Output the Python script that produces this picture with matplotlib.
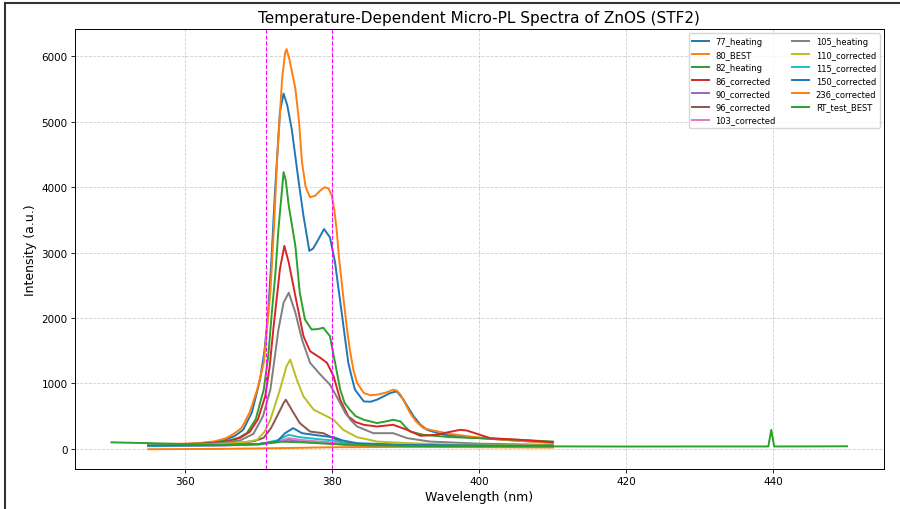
import matplotlib
matplotlib.use("Agg")
import matplotlib.pyplot as plt
from matplotlib.lines import Line2D

# spectra (wavelength in nm, intensity in a.u.)
wl_77 = [355, 360, 362, 364, 365.5, 366.8, 367.9, 369.1, 370.2, 370.8, 371.3, 371.8, 372.2, 372.9,
         373.4, 373.9, 374.5, 375.4, 376.1, 376.9, 377.4, 377.9, 378.9, 379.7, 380.4, 380.8,
         381.3, 381.8, 382.2, 382.7, 383.1, 384.3, 385.2, 386.1, 387.9, 388.8, 389.7, 390.4,
         391.1, 392.0, 392.9, 395, 398, 402, 406, 410]
int_77 = [70, 75, 85, 105, 140, 200, 291, 560, 1058, 1500, 2082, 3000, 3870, 5150,
          5430, 5250, 4893, 4126, 3563, 3027, 3060, 3155, 3360, 3232, 2849, 2500,
          2082, 1650, 1315, 1080, 905, 726, 720, 752, 854, 879, 752, 620,
          496, 370, 291, 220, 180, 150, 120, 100]

wl_80 = [355, 360, 362, 364, 365.5, 366.5, 367.7, 368.8, 369.8, 370.7, 371.2, 371.6, 372.1, 372.5,
         373.2, 373.6, 373.8, 374.2, 375.0, 375.5, 375.9, 376.4, 377.0, 377.7, 378.4, 379.0,
         379.5, 379.96, 380.3, 380.6, 381.0, 381.5, 382.0, 382.4, 382.9, 383.4, 384.3, 385.2,
         386.1, 387.3, 388.3, 388.8, 389.3, 389.9, 390.6, 391.4, 392.4, 393.3, 396, 398.8,
         403.3, 410]
int_80 = [75, 80, 90, 115, 160, 220, 320, 560, 900, 1315, 1900, 2400, 3400, 4383,
          5660, 6050, 6110, 5950, 5507, 5000, 4383, 4000, 3846, 3870, 3950, 4000,
          3980, 3870, 3650, 3360, 2850, 2336, 1850, 1519, 1200, 1008, 854, 820,
          828, 860, 905, 890, 828, 700, 547, 420, 317, 291, 230, 189,
          138, 90]

wl_82 = [355, 360, 362, 364, 366, 367.3, 368.4, 369.6, 370.7, 371.3, 371.8, 372.3, 372.7, 373.4,
         373.7, 374.1, 375.0, 375.6, 376.3, 377.2, 378.0, 378.8, 379.7, 380.4, 381.1, 381.7,
         382.4, 383.2, 384.3, 386.1, 387.3, 388.3, 389.3, 390.0, 390.6, 392.4, 396, 400,
         405, 410]
int_82 = [65, 70, 80, 95, 130, 170, 240, 450, 905, 1400, 2082, 2700, 3360, 4229,
          4100, 3717, 3103, 2388, 1979, 1825, 1830, 1851, 1723, 1315, 905, 700,
          598, 500, 445, 394, 420, 445, 419, 330, 265, 215, 180, 164,
          140, 112]

wl_86 = [355, 360, 362, 364, 366, 367.5, 368.8, 369.9, 370.9, 371.5, 372.0, 372.9, 373.5, 374.1,
         375.0, 376.1, 377.0, 378.4, 379.3, 380.2, 381.1, 382.2, 383.2, 384.3, 386.1, 388.3,
         390.2, 392.0, 394.2, 396.0, 397.4, 398.3, 400.1, 401.5, 405.6, 410]
int_86 = [60, 65, 75, 90, 120, 170, 260, 450, 802, 1250, 1825, 2746, 3103, 2849,
          2336, 1723, 1493, 1391, 1315, 1109, 752, 496, 410, 368, 342, 368,
          291, 200, 215, 260, 291, 281, 215, 164, 138, 102]

wl_90 = [355, 365, 370, 372.5, 374, 376, 378, 380, 383, 390, 410]
int_90 = [45, 55, 70, 100, 140, 110, 95, 80, 50, 40, 30]

wl_96 = [355, 360, 365, 368, 369.5, 370.7, 371.7, 372.5, 373.4, 373.7, 374.5, 375.6, 377.0,
         378.8, 380.2, 381.5, 384, 390, 410]
int_96 = [55, 60, 75, 100, 120, 170, 320, 496, 701, 752, 598, 394, 265,
          240, 164, 97, 70, 55, 40]

wl_103 = [355, 365, 370, 372.5, 374.1, 375.5, 378, 380, 382, 390, 410]
int_103 = [40, 50, 65, 110, 164, 140, 115, 100, 60, 40, 30]

wl_105 = [355, 360, 363, 365, 367.5, 369.3, 370.6, 371.6, 372.2, 372.7, 373.4, 374.1, 375.0,
          375.9, 377.0, 378.4, 379.7, 380.6, 381.8, 382.6, 383.4, 385.6, 388.3, 390.2, 393.3,
          400, 410]
int_105 = [60, 65, 75, 90, 130, 230, 500, 905, 1400, 1825, 2235, 2388, 2082,
           1672, 1315, 1135, 982, 802, 547, 430, 342, 240, 240, 164, 112,
           80, 60]

wl_110 = [355, 360, 365, 368, 369.8, 370.8, 371.6, 372.9, 373.8, 374.3, 375.2, 376.1, 377.5,
          379.3, 380.2, 381.5, 383.4, 386.1, 390, 395, 410]
int_110 = [55, 60, 75, 100, 138, 260, 445, 905, 1263, 1365, 1058, 802, 598,
           496, 445, 291, 179, 112, 90, 70, 50]

wl_115 = [355, 365, 370, 372.5, 374.1, 375.5, 378, 380, 382, 390, 410]
int_115 = [45, 55, 70, 130, 215, 180, 150, 130, 85, 50, 35]

wl_150 = [355, 365, 370, 372.5, 373.6, 374.7, 375.9, 377.5, 379.3, 380.2, 381.5, 383.4, 390, 410]
int_150 = [50, 60, 75, 112, 240, 317, 240, 215, 189, 179, 127, 87, 60, 45]

wl_236 = [355, 365, 375, 380, 390, 410]
int_236 = [-5, 0, 15, 25, 30, 20]

wl_rt = [350, 352, 355, 360, 365, 370, 373, 376, 380, 385, 390, 400, 410, 420, 430,
         439.3, 439.7, 440.1, 445, 450]
int_rt = [100, 95, 88, 72, 62, 75, 110, 100, 75, 55, 45, 40, 38, 36, 37,
          37, 290, 37, 38, 40]

labels = ["77_heating", "80_BEST", "82_heating", "86_corrected", "90_corrected",
          "96_corrected", "103_corrected", "105_heating", "110_corrected",
          "115_corrected", "150_corrected", "236_corrected", "RT_test_BEST"]
spectra = [(wl_77, int_77), (wl_80, int_80), (wl_82, int_82), (wl_86, int_86),
           (wl_90, int_90), (wl_96, int_96), (wl_103, int_103), (wl_105, int_105),
           (wl_110, int_110), (wl_115, int_115), (wl_150, int_150), (wl_236, int_236),
           (wl_rt, int_rt)]

markers_nm = [371, 380]


def main() -> None:
    fig, ax = plt.subplots(figsize=(9, 5.1), dpi=100)
    fig.subplots_adjust(left=0.083, right=0.982, top=0.941, bottom=0.078)

    for label, (wl, inten) in zip(labels, spectra):
        ax.plot(wl, inten, lw=1.4, label=label)

    for x in markers_nm:
        ax.axvline(x, color="magenta", ls="--", lw=0.8)

    ax.set_xlabel("Wavelength (nm)", fontsize=9, labelpad=2.5)
    ax.set_ylabel("Intensity (a.u.)", fontsize=9, labelpad=3)
    ax.set_title("Temperature-Dependent Micro-PL Spectra of ZnOS (STF2)", fontsize=11, pad=5)
    ax.tick_params(labelsize=7.5, length=2.6, width=0.6, pad=2.6)
    for sp in ax.spines.values():
        sp.set_linewidth(0.7)
    ax.grid(True, ls="--", lw=0.6, alpha=0.6)
    ax.legend(loc="upper right", ncol=2, fontsize=6)

    # outer frame of the original screenshot
    fig.add_artist(Line2D([0.005, 0.005], [0, 0.992], transform=fig.transFigure,
                          color="#333333", lw=1.5))
    fig.add_artist(Line2D([0.005, 1], [0.992, 0.992], transform=fig.transFigure,
                          color="#333333", lw=1.5))

    fig.savefig("out.png", dpi=100)
    plt.close(fig)


if __name__ == "__main__":
    main()
